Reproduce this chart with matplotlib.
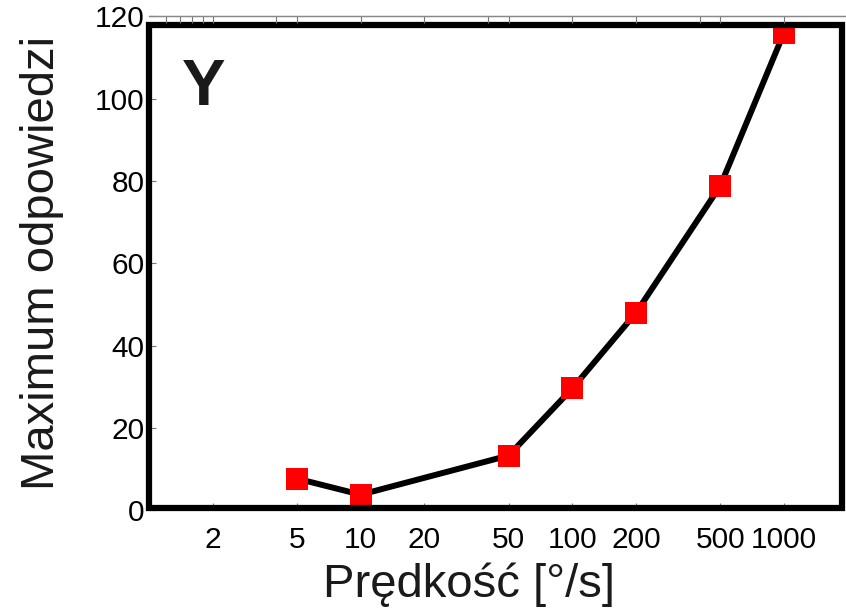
import matplotlib
matplotlib.use("Agg")
import matplotlib.pyplot as plt
from matplotlib.patches import Rectangle
from matplotlib.ticker import FixedLocator, NullLocator, NullFormatter, FixedFormatter

speed = [5, 10, 50, 100, 200, 500, 1000]
response_max = [7.7, 3.8, 13.3, 29.6, 48.0, 78.8, 116.0]

xtick_vals = [2, 5, 10, 20, 50, 100, 200, 500, 1000]
xtick_labels = ["2", "5", "10", "20", "50", "100", "200", "500", "1000"]
top_tick_vals = [1.2, 1.4, 1.6, 1.8, 2, 4, 5, 10, 20, 40, 50, 100, 200, 400, 500, 1000]
ytick_vals = [0, 20, 40, 60, 80, 100, 120]

plt.rcParams['font.family'] = ['Liberation Sans', 'DejaVu Sans']

fig = plt.figure(figsize=(8.46, 6.09), dpi=100)
W, H = 846, 609
ax = fig.add_axes([149 / W, 98.7 / H, 698.7 / W, 494 / H])

ax.plot(speed, response_max, color='black', lw=4.3, zorder=3)
ax.plot(speed, response_max, linestyle='none', marker='s', markersize=15.5,
        markerfacecolor='#ff0000', markeredgecolor='#ff0000',
        markeredgewidth=0, zorder=4)

ax.set_xscale('log')
ax.set_xlim(1, 2000)
ax.set_ylim(0, 120)

ax.xaxis.set_major_locator(FixedLocator(xtick_vals))
ax.xaxis.set_major_formatter(FixedFormatter(xtick_labels))
ax.xaxis.set_minor_locator(NullLocator())
ax.xaxis.set_minor_formatter(NullFormatter())
ax.set_yticks(ytick_vals)

ax.tick_params(axis='x', which='major', direction='in', length=5, width=0.8,
               color='#777777', labelsize=21.5, pad=11, top=False, bottom=True)
ax.tick_params(axis='y', which='major', direction='in', length=5, width=0.8,
               color='#777777', labelsize=21.5, pad=3, left=True, right=False)

for s in ['left', 'bottom', 'right']:
    ax.spines[s].set_visible(False)
ax.spines['top'].set_color('#888888')
ax.spines['top'].set_linewidth(0.9)

# top thin axis with its own ticks
ax2 = ax.twiny()
ax2.set_xscale('log')
ax2.set_xlim(ax.get_xlim())
ax2.xaxis.set_major_locator(FixedLocator(top_tick_vals))
ax2.xaxis.set_major_formatter(NullFormatter())
ax2.xaxis.set_minor_locator(NullLocator())
ax2.tick_params(axis='x', direction='in', length=5, width=0.8, color='#777777')
for s in ['left', 'bottom', 'right']:
    ax2.spines[s].set_visible(False)
ax2.spines['top'].set_color('#888888')
ax2.spines['top'].set_linewidth(0.9)

# thick frame
frame = Rectangle((0, 0.004), 0.992, 0.978, transform=ax.transAxes, fill=False,
                  edgecolor='black', linewidth=4.5, zorder=10, clip_on=False)
ax.add_patch(frame)

ax.set_ylabel('Maximum odpowiedzi', fontsize=34, color='#1a1a1a')
ax.yaxis.set_label_coords(-0.122, 0.5)
ax.set_xlabel('Prędkość [°/s]', fontsize=34, color='#1a1a1a')
ax.xaxis.set_label_coords(0.458, -0.105)

ax.text(0.047, 0.82, 'Y', transform=ax.transAxes, fontsize=47,
        fontweight='bold', color='#1a1a1a', ha='left', va='baseline')

fig.savefig('out.png', dpi=100)
